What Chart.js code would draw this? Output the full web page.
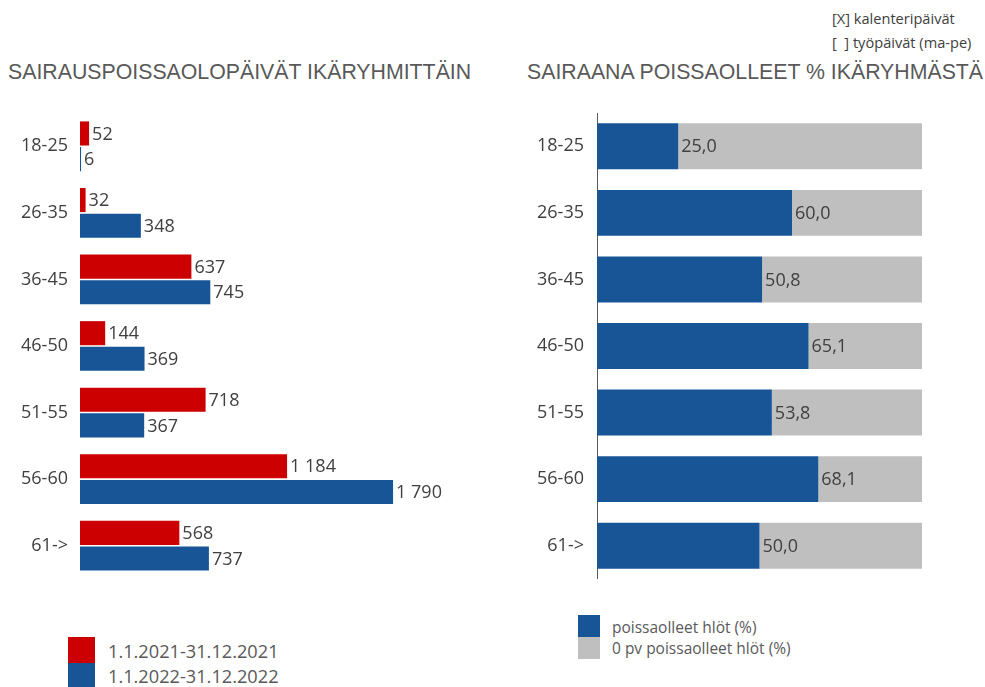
<!DOCTYPE html>
<html><head><meta charset="utf-8">
<script src="https://cdn.jsdelivr.net/npm/chart.js@4.4.0/dist/chart.umd.min.js"></script>
<style>
body{margin:0;width:985px;height:687px;background:#fff;position:relative;overflow:hidden;font-family:"Open Sans",sans-serif;}
.abs{position:absolute;}
.title{font-family:"Liberation Sans",Arial,sans-serif;font-size:21.3px;color:#595959;white-space:nowrap;}
.note{font-family:"Open Sans",sans-serif;font-size:14.6px;color:#404040;white-space:nowrap;}
.lg{color:#595959;white-space:nowrap;}
.sw{position:absolute;}
</style></head><body>
<div class="abs note" style="left:832px;top:8px;">[X] kalenteripäivät</div>
<div class="abs note" style="left:832px;top:32px;">[&nbsp;&nbsp;] työpäivät (ma-pe)</div>
<div class="abs title" style="left:8px;top:60px;">SAIRAUSPOISSAOLOPÄIVÄT IKÄRYHMITTÄIN</div>
<div class="abs title" style="left:527px;top:60px;">SAIRAANA POISSAOLLEET % IKÄRYHMÄSTÄ</div>
<div class="abs" style="left:0;top:113px;width:480px;height:466px;"><canvas id="c1"></canvas></div>
<div class="abs" style="left:500px;top:113px;width:422px;height:466px;"><canvas id="c2"></canvas></div>
<div class="sw" id="lg1a" style="left:68px;top:637px;width:27px;height:26px;"></div>
<div class="sw" id="lg1b" style="left:68px;top:663px;width:27px;height:26px;"></div>
<div class="abs lg" style="left:108px;top:639px;font-size:18.2px;">1.1.2021-31.12.2021</div>
<div class="abs lg" style="left:108px;top:664px;font-size:18.2px;">1.1.2022-31.12.2022</div>
<div class="sw" id="lg2a" style="left:578px;top:615px;width:22px;height:22px;"></div>
<div class="sw" id="lg2b" style="left:578px;top:637px;width:22px;height:22px;"></div>
<div class="abs lg" style="left:612px;top:616px;font-size:15.5px;">poissaolleet hlöt (%)</div>
<div class="abs lg" style="left:612px;top:637px;font-size:15.5px;">0 pv poissaolleet hlöt (%)</div>
<script>
const categories = ["18-25","26-35","36-45","46-50","51-55","56-60","61->"];
const days2021 = [52,32,637,144,718,1184,568];
const days2022 = [6,348,745,369,367,1790,737];
const absentPct = [25.0,60.0,50.8,65.1,53.8,68.1,50.0];
const legend1 = ["1.1.2021-31.12.2021","1.1.2022-31.12.2022"];
const legend2 = ["poissaolleet hlöt (%)","0 pv poissaolleet hlöt (%)"];
const notAbsentPct = absentPct.map(v => 100 - v);

const RED = "#CC0000", BLUE = "#175597", GREY = "#BFBFBF", TXT = "#404040";
document.getElementById('lg1a').style.background = RED;
document.getElementById('lg1b').style.background = BLUE;
document.getElementById('lg2a').style.background = BLUE;
document.getElementById('lg2b').style.background = GREY;

function fmtSpace(v){ return String(v).replace(/\B(?=(\d{3})+(?!\d))/g, " "); }
function fmtComma(v){ return v.toFixed(1).replace(".", ","); }

const labelPlugin = {
  id: 'valLabels',
  afterDatasetsDraw(chart, args, opts) {
    const ctx = chart.ctx;
    ctx.save();
    ctx.font = '18px "Open Sans", sans-serif';
    ctx.fillStyle = TXT;
    ctx.textBaseline = 'middle';
    ctx.textAlign = 'left';
    opts.datasets.forEach(di => {
      const meta = chart.getDatasetMeta(di);
      const data = chart.data.datasets[di].data;
      meta.data.forEach((el, i) => {
        ctx.fillText(opts.fmt(data[i]), el.x + 3, el.y + 1);
      });
    });
    ctx.restore();
  }
};

const tickFont = {family: '"Open Sans", sans-serif', size: 18};
function fitY(w){ return function(s){ s.width = w; s.paddingTop = 0; s.paddingBottom = 0; }; }

new Chart(document.getElementById('c1'), {
  type: 'bar',
  data: {
    labels: categories,
    datasets: [
      {label: legend1[0], data: days2021, backgroundColor: RED, categoryPercentage: 0.77, barPercentage: 0.94},
      {label: legend1[1], data: days2022, backgroundColor: BLUE, categoryPercentage: 0.77, barPercentage: 0.94}
    ]
  },
  options: {
    indexAxis: 'y', responsive: true, maintainAspectRatio: false, animation: false,
    layout: {padding: 0},
    plugins: {legend: {display: false}, tooltip: {enabled: false},
      valLabels: {datasets: [0,1], fmt: fmtSpace}},
    scales: {
      x: {display: false, min: 0, max: 2287},
      y: {
        afterFit: fitY(80),
        grid: {display: false, drawTicks: false},
        border: {display: false},
        ticks: {color: TXT, font: tickFont, padding: 12}
      }
    }
  },
  plugins: [labelPlugin]
});

new Chart(document.getElementById('c2'), {
  type: 'bar',
  data: {
    labels: categories,
    datasets: [
      {label: legend2[0], data: absentPct, backgroundColor: BLUE, categoryPercentage: 0.69, barPercentage: 1},
      {label: legend2[1], data: notAbsentPct, backgroundColor: GREY, categoryPercentage: 0.69, barPercentage: 1}
    ]
  },
  options: {
    indexAxis: 'y', responsive: true, maintainAspectRatio: false, animation: false,
    layout: {padding: 0},
    plugins: {legend: {display: false}, tooltip: {enabled: false},
      valLabels: {datasets: [0], fmt: fmtComma}},
    scales: {
      x: {display: false, stacked: true, min: 0, max: 100},
      y: {
        stacked: true,
        afterFit: fitY(97),
        grid: {display: false, drawTicks: false},
        border: {display: true, color: '#595959', width: 1},
        ticks: {color: TXT, font: tickFont, padding: 13}
      }
    }
  },
  plugins: [labelPlugin]
});
</script>
</body></html>
